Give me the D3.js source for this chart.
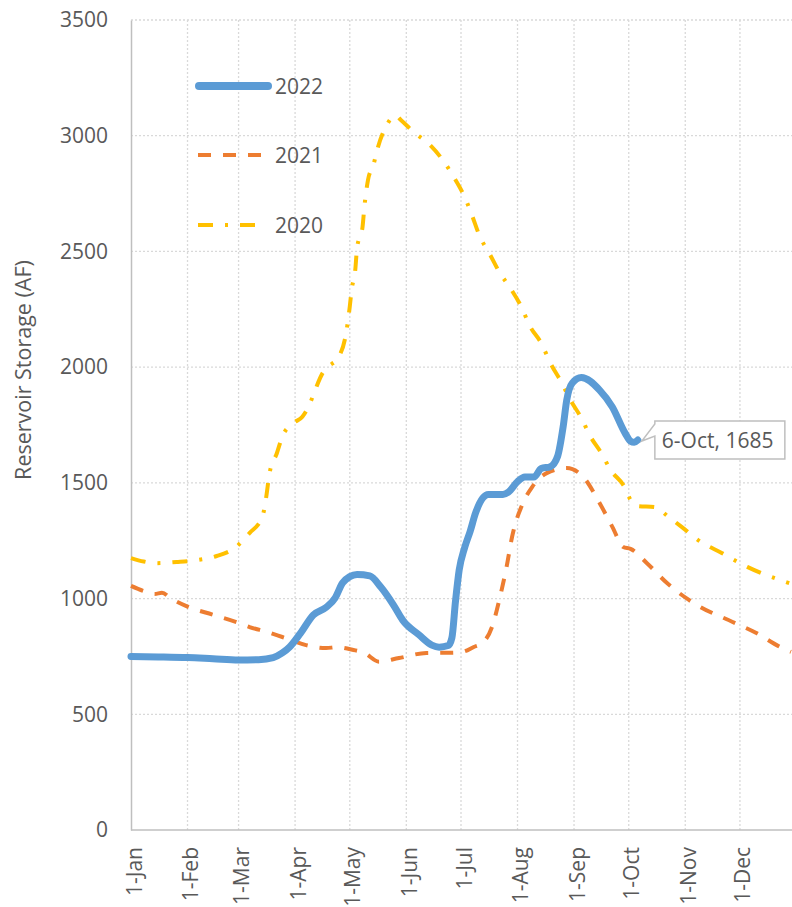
<!DOCTYPE html>
<html>
<head>
<meta charset="utf-8">
<script src="https://cdn.jsdelivr.net/npm/d3@7"></script>
<style>
  html, body { margin: 0; padding: 0; background: #fff; }
  svg { display: block; }
  text { font-family: "Open Sans", "DejaVu Sans", sans-serif; fill: #595959; }
</style>
</head>
<body>
<svg id="chart" width="792" height="907"></svg>
<script>
// ---------- DATA ----------
const yTicks = [0, 500, 1000, 1500, 2000, 2500, 3000, 3500];
const monthTicks = ["01-01","02-01","03-01","04-01","05-01","06-01","07-01","08-01","09-01","10-01","11-01","12-01"];

const dates2022 = ["01-01","01-16","02-01","02-15","03-01","03-12","03-20","03-25","03-29","04-04","04-11","04-18","04-23","04-27","05-01","05-05","05-12","05-18","05-25","05-30","06-08","06-15","06-19","06-24","06-26","06-28","06-30","07-03","07-06","07-09","07-13","07-16","07-24","07-27","08-01","08-05","08-10","08-14","08-19","08-23","08-26","08-28","08-31","09-05","09-15","09-22","09-29","10-02","10-04","10-06"];
const storage2022 = [750,748,745,740,735,736,745,765,791,851,929,962,1003,1067,1095,1104,1098,1050,972,907,843,799,790,797,830,990,1123,1220,1290,1370,1435,1450,1450,1460,1505,1525,1525,1562,1570,1615,1741,1858,1931,1955,1901,1828,1715,1680,1675,1685];

const dates2021 = ["01-01","01-09","01-14","01-18","01-23","02-01","02-15","03-01","03-07","03-17","03-25","04-07","04-18","04-24","05-03","05-09","05-17","05-28","06-12","06-26","07-02","07-08","07-13","07-18","07-22","07-26","07-29","08-04","08-09","08-17","08-28","09-06","09-15","09-22","09-28","10-02","10-11","10-22","11-03","11-09","11-27","12-10","12-23","12-29"];
const storage2021 = [1055,1030,1020,1025,1000,965,930,895,877,855,834,799,786,790,778,765,727,743,765,766,770,791,810,877,994,1137,1266,1413,1482,1542,1564,1526,1413,1310,1223,1215,1153,1067,994,965,899,851,791,770];

const dates2020 = ["01-01","01-08","01-15","01-26","02-05","02-17","02-27","03-07","03-14","03-16","03-18","03-22","03-25","03-31","04-05","04-09","04-12","04-16","04-19","04-25","04-29","05-01","05-02","05-04","05-05","05-08","05-09","05-11","05-14","05-16","05-21","05-26","05-29","06-05","06-14","06-21","06-27","07-03","07-07","07-11","07-17","07-22","07-28","08-03","08-08","08-14","08-19","08-25","08-30","09-05","09-10","09-16","09-21","09-29","10-02","10-06","10-15","10-23","10-30","11-08","11-21","12-05","12-23","12-28"];
const storage2020 = [1175,1160,1153,1158,1165,1184,1219,1283,1352,1430,1542,1628,1700,1758,1786,1840,1901,1973,2001,2045,2148,2262,2334,2420,2515,2606,2692,2809,2874,2938,3042,3088,3068,3016,2960,2895,2822,2735,2657,2571,2485,2411,2342,2262,2174,2104,2018,1936,1858,1780,1700,1628,1556,1478,1426,1400,1396,1352,1310,1253,1197,1137,1080,1067];

const seriesNames = ["2022", "2021", "2020"];
const yAxisTitle = "Reservoir Storage (AF)";
const axisStart = "01-01", axisEnd = "12-29";

// ---------- SETUP ----------
const parse = s => new Date(Date.UTC(2022, +s.slice(0,2) - 1, +s.slice(3,5)));
const svg = d3.select("#chart");
const mLeft = 131, mRight = 791, mTop = 20, mBottom = 830;
const FS = 21;

const x = d3.scaleUtc().domain([parse(axisStart), parse(axisEnd)]).range([mLeft, mRight]);
const y = d3.scaleLinear().domain([0, 3500]).range([mBottom, mTop]);
const fmt = d3.utcFormat("%-d-%b");

// ---------- GRID ----------
const grid = svg.append("g");
grid.selectAll("line.h").data(yTicks.filter(v => v > 0)).join("line")
  .attr("x1", mLeft).attr("x2", 792).attr("y1", d => y(d)).attr("y2", d => y(d))
  .attr("stroke", "#d9d9d9").attr("stroke-width", 1.3).attr("stroke-dasharray", "2,2");
grid.selectAll("line.v").data(monthTicks.slice(1).map(parse)).join("line")
  .attr("x1", d => x(d)).attr("x2", d => x(d)).attr("y1", mTop).attr("y2", mBottom)
  .attr("stroke", "#d9d9d9").attr("stroke-width", 1.3).attr("stroke-dasharray", "2,2");

// ---------- AXES ----------
const yAxis = d3.axisLeft(y).tickValues(yTicks).tickSize(0).tickPadding(23).tickFormat(d3.format("d"));
const gy = svg.append("g").attr("transform", `translate(${mLeft},0)`).call(yAxis);
gy.select(".domain").attr("stroke", "#bfbfbf").attr("stroke-width", 1.5);
gy.selectAll("text").attr("font-size", FS).attr("fill", "#595959")
  .style("font-family", '"Open Sans", sans-serif');

const xAxis = d3.axisBottom(x).tickValues(monthTicks.map(parse)).tickSize(0).tickFormat(fmt);
const gx = svg.append("g").attr("transform", `translate(0,${mBottom})`).call(xAxis);
gx.select(".domain").attr("stroke", "#bfbfbf").attr("stroke-width", 1.5)
  .attr("d", `M${mLeft},0H792`);
gx.selectAll("text")
  .attr("font-size", FS).attr("fill", "#595959")
  .style("font-family", '"Open Sans", sans-serif')
  .attr("text-anchor", "end")
  .attr("dy", null).attr("y", null)
  .attr("transform", "translate(10,17) rotate(-90)");

svg.append("text").text(yAxisTitle)
  .attr("font-size", 21.5)
  .attr("text-anchor", "middle")
  .attr("transform", "translate(31,370) rotate(-90)");

// ---------- LINES ----------
const line = d3.line().x(d => x(d.date)).y(d => y(d.value)).curve(d3.curveMonotoneX);
const mk = (ds, vs) => ds.map((d, i) => ({ date: parse(d), value: vs[i] }));

const data2020 = mk(dates2020, storage2020);
const data2021 = mk(dates2021, storage2021);
const data2022 = mk(dates2022, storage2022);

const styles = {
  "2020": { color: "#ffc000", width: 4, dash: "15,12,3,12", cap: "butt" },
  "2021": { color: "#ed7d31", width: 4, dash: "13,12", cap: "butt" },
  "2022": { color: "#5b9bd5", width: 7, dash: null, cap: "round" }
};

const plot = svg.append("g");
[["2020", data2020], ["2021", data2021], ["2022", data2022]].forEach(([k, d]) => {
  const s = styles[k];
  plot.append("path").datum(d).attr("d", line)
    .attr("fill", "none").attr("stroke", s.color).attr("stroke-width", s.width)
    .attr("stroke-dasharray", s.dash).attr("stroke-linecap", s.cap)
    .attr("stroke-linejoin", "round");
});

// ---------- LEGEND ----------
const legendY = { "2022": 86, "2021": 155, "2020": 225 };
seriesNames.forEach(k => {
  const s = styles[k];
  const ly = legendY[k];
  svg.append("line")
    .attr("x1", k === "2022" ? 199 : 198).attr("x2", k === "2022" ? 268 : 267)
    .attr("y1", ly).attr("y2", ly)
    .attr("stroke", s.color).attr("stroke-width", k === "2022" ? 8 : 4)
    .attr("stroke-dasharray", s.dash).attr("stroke-linecap", s.cap);
  svg.append("text").text(k).attr("x", 275).attr("y", ly).attr("dy", "0.36em")
    .attr("font-size", FS);
});

// ---------- CALLOUT ----------
const last = data2022[data2022.length - 1];
const px = x(last.date), py = y(last.value);
const L = px + 17, T = py - 19, R = L + 130, B = T + 38;
const tipX = px + 4, tipY = py + 1;
svg.append("path")
  .attr("d", `M${L},${T}H${R}V${B}H${L}V${T + 15}L${tipX},${tipY}L${L},${T + 3}Z`)
  .attr("fill", "#fff").attr("stroke", "#bfbfbf").attr("stroke-width", 1.5);
svg.append("text").text(`${fmt(last.date)}, ${last.value}`)
  .attr("x", L + 7).attr("y", (T + B) / 2).attr("dy", "0.36em")
  .attr("font-size", FS);
</script>
</body>
</html>
